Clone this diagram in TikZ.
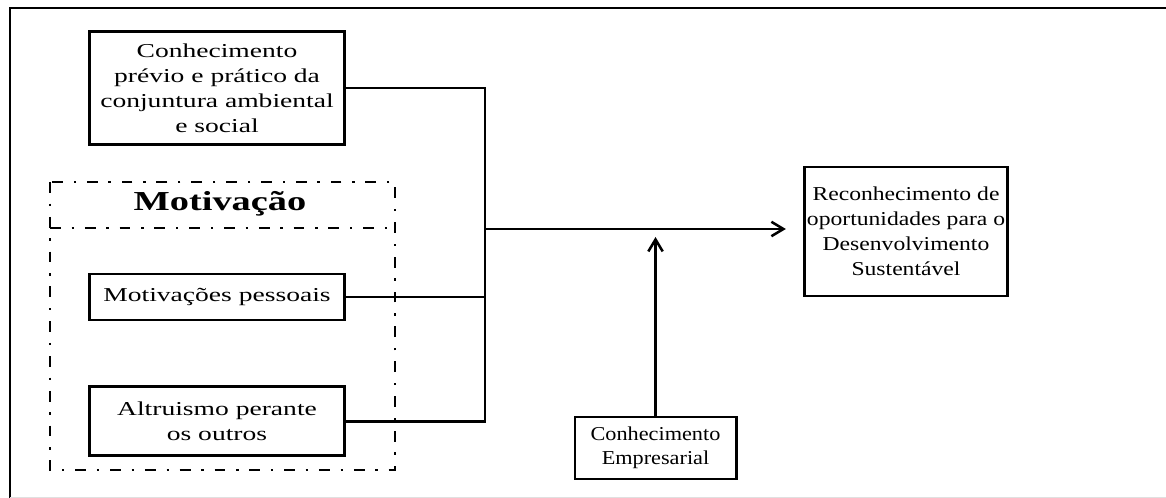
\documentclass[tikz,border=0pt]{standalone}
\usepackage{fontspec}
\setmainfont{Liberation Serif}[FakeStretch=1.4]
\newfontfamily\estreita{Liberation Serif}[FakeStretch=1.2]
\newfontfamily\maisestreita{Liberation Serif}[FakeStretch=1.13]
\usetikzlibrary{arrows.meta}

\begin{document}
\begin{tikzpicture}[x=0.025cm, y=-0.025cm,
        box/.style={draw, line width=2.1pt, align=center, inner sep=2pt, font=\fontsize{14}{17.8}\selectfont},
        link/.style={line width=1.8pt},
        tip/.style={-{Straight Barb[length=0.3cm, width=0.36cm]}},
        grupo/.style={line width=1.9pt, dash pattern=on 0.27cm off 0.27cm on 0.06cm off 0.27cm}]
        \useasboundingbox (0,0) rectangle (1166,498);
        % moldura
        \draw [line width=1.8pt] (10,498) -- (10,8) -- (1166,8);
        \draw [black!12] (10,497) -- (1166,497);
        % grupo Motivacao
        \draw [grupo] (50,182) rectangle (395,470);
        \draw [grupo] (50,228) -- (395,228);
        \node (Motiv) at (220,204) [font=\bfseries\fontsize{19.5}{22}\selectfont] {Motivação};
        \node (Previo) at (217,88) [box, minimum width=6.375cm, minimum height=2.825cm] {Conhecimento\\prévio e prático da\\conjuntura ambiental\\e social};
        \node (Pess) at (217,297) [box, minimum width=6.375cm, minimum height=1.15cm] {Motivações pessoais};
        \node (Altr) [below of=Pess, node distance=3.11cm, box, minimum width=6.375cm, minimum height=1.725cm] {Altruismo perante\\os outros};
        \node (Recon) at (906,231.5) [box, minimum width=5cm, minimum height=3.225cm, font=\estreita\fontsize{14}{17.8}\selectfont] {Reconhecimento de\\oportunidades para o\\Desenvolvimento\\Sustentável};
        \node (Emp) at (655.5,448) [box, minimum width=4.025cm, minimum height=1.55cm, font=\maisestreita\fontsize{14}{17.2}\selectfont] {Conhecimento\\Empresarial};
        \coordinate (Junta) at (485,229);
        \coordinate (Alvo) at (657,237);
        \draw [link] (Previo.east) -| (Junta |- Altr.east) -- (Altr.east);
        \draw [link] (Pess.east) -- (Pess.east -| Junta);
        \draw [link, tip, shorten >=0.42cm] (Junta) -- (Recon.west |- Junta);
        \draw [link, tip] (Emp.north) -- (Emp.north |- Alvo);
    \end{tikzpicture}
\end{document}
